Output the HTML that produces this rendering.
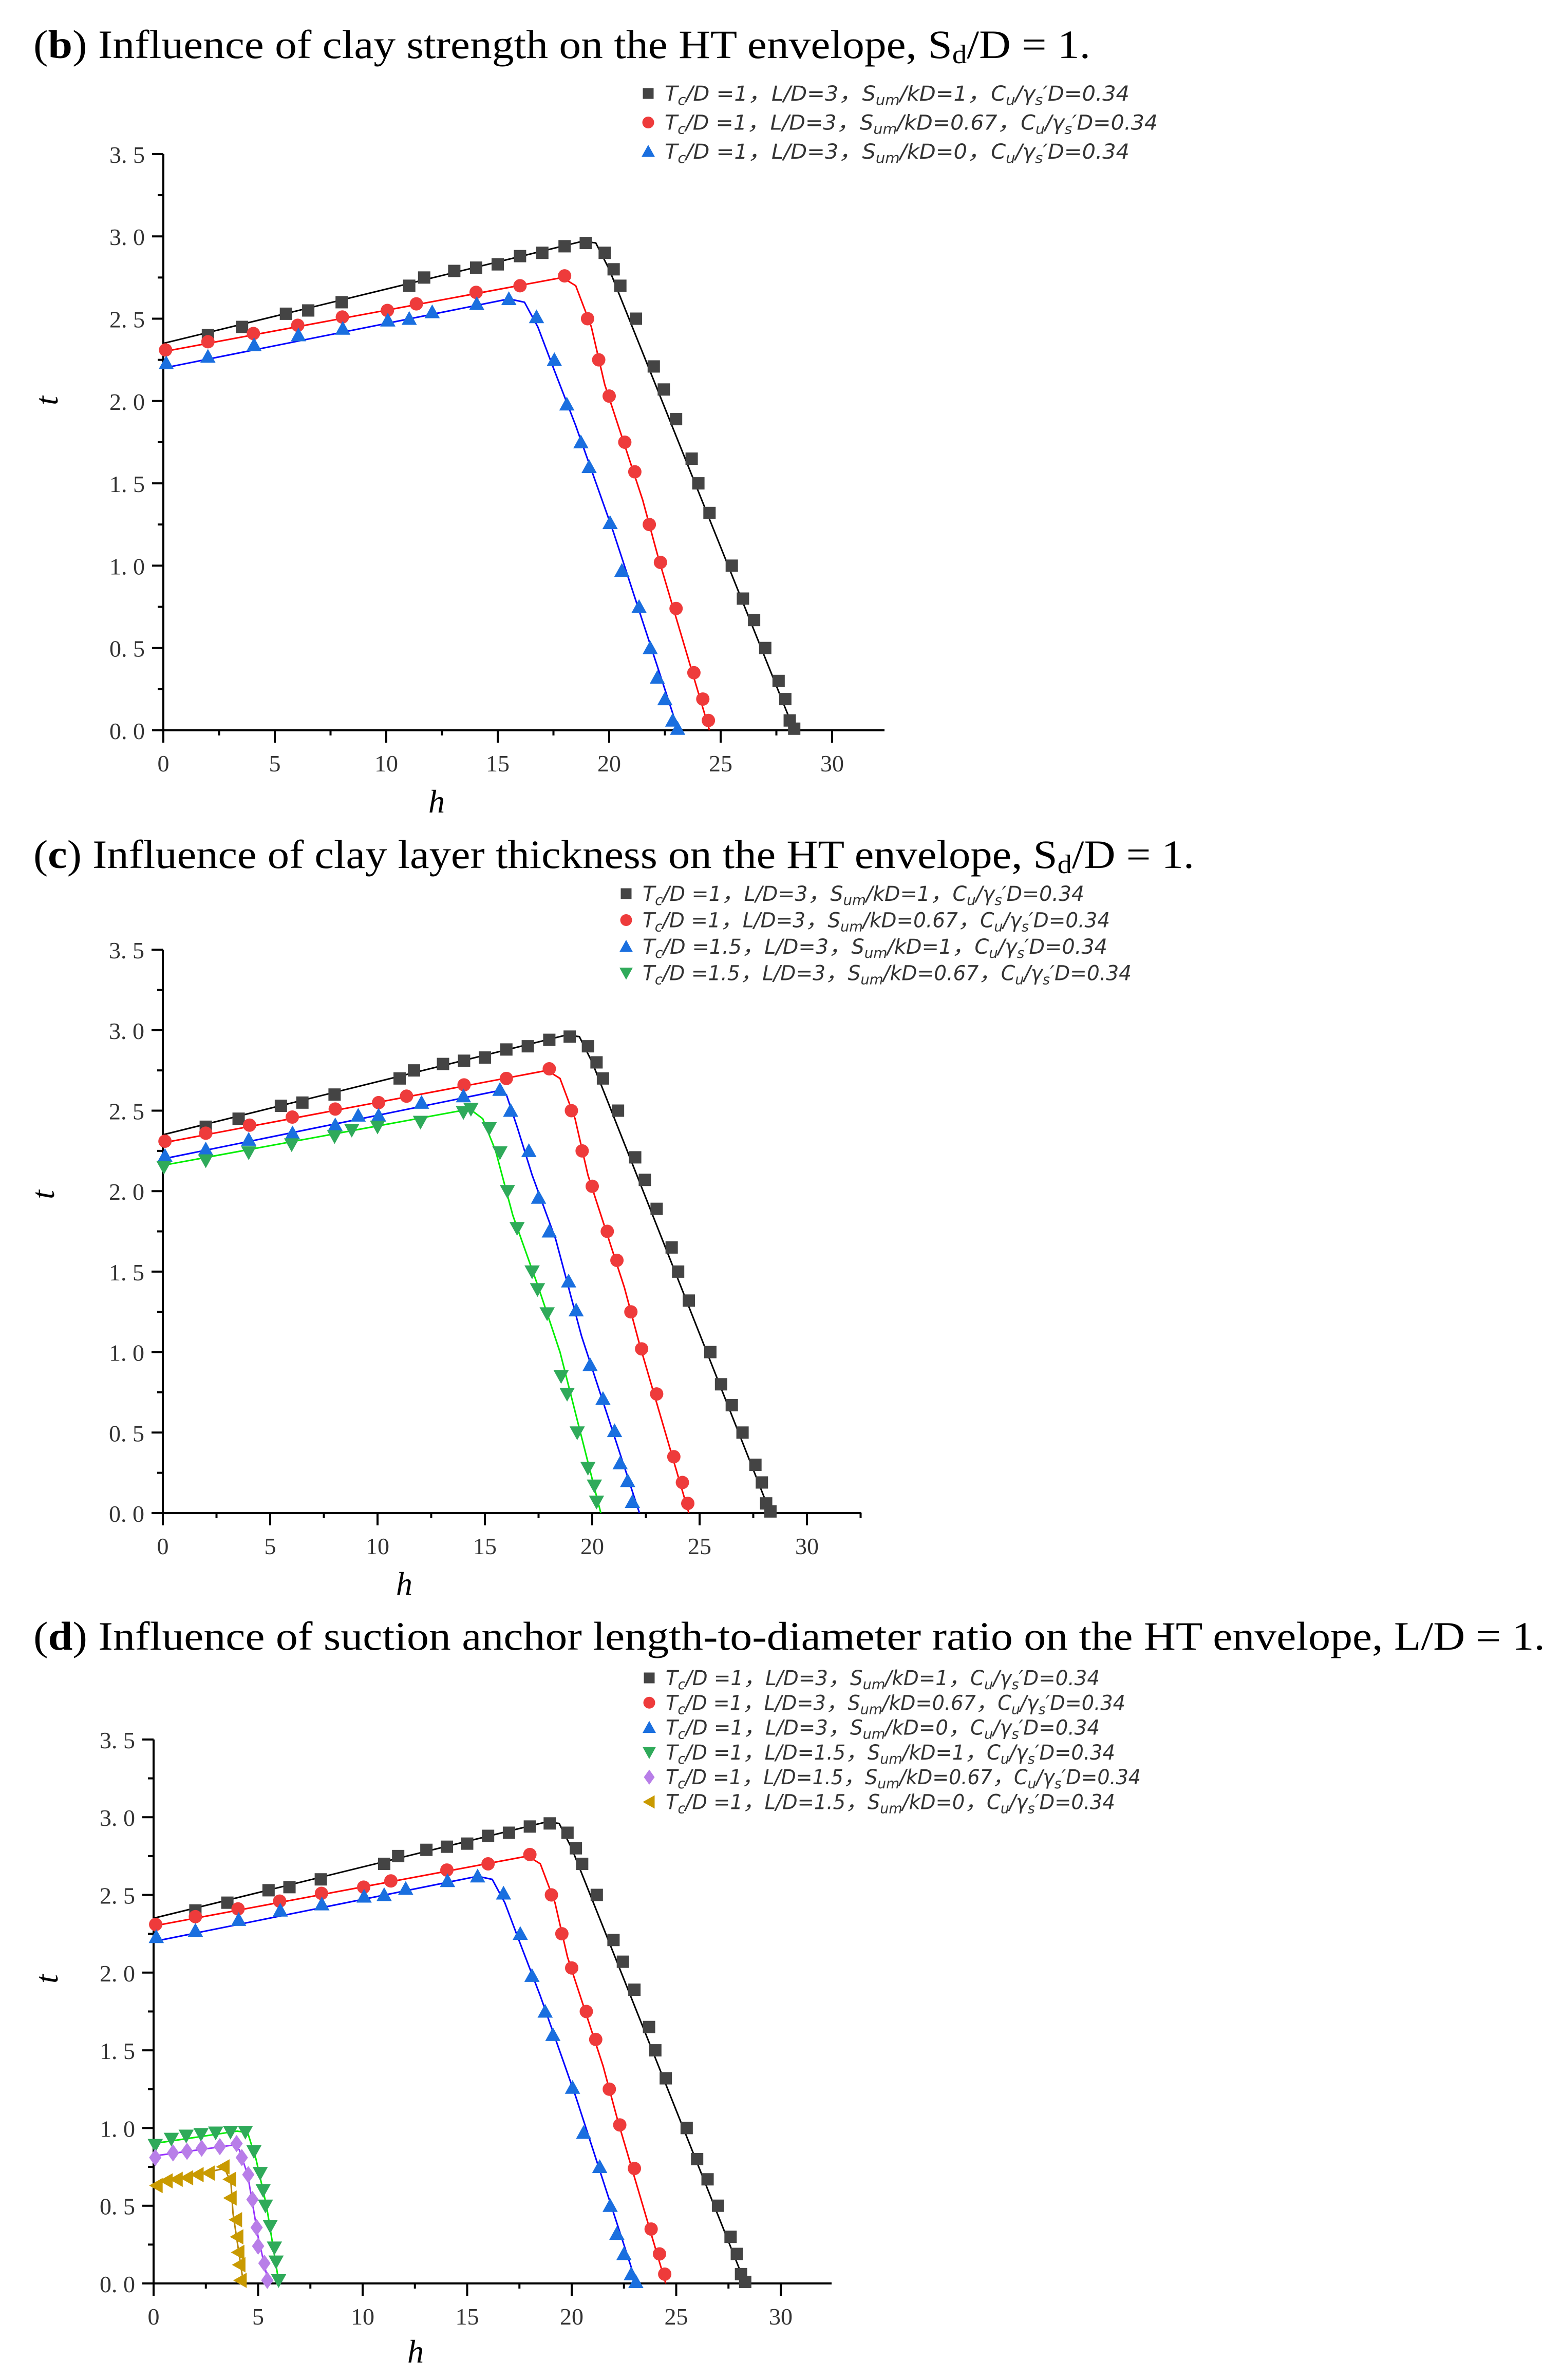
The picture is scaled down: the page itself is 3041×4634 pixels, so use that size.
<!DOCTYPE html>
<html><head><meta charset="utf-8"><style>
html,body{margin:0;padding:0;background:#fff;}
svg{display:block;}
</style></head><body>
<svg id="fig" width="3041" height="4634" viewBox="0 0 3041 4634" xmlns="http://www.w3.org/2000/svg">
<rect width="3041" height="4634" fill="#fff"/>
<text x="65" y="113" font-family="Liberation Serif, serif" font-size="78" fill="#000" textLength="2058" lengthAdjust="spacingAndGlyphs">(<tspan font-weight="bold">b</tspan>) Influence of clay strength on the HT envelope, S<tspan font-size="52" dy="10">d</tspan><tspan dy="-10">/D = 1.</tspan></text>
<text x="65" y="1690" font-family="Liberation Serif, serif" font-size="78" fill="#000" textLength="2260" lengthAdjust="spacingAndGlyphs">(<tspan font-weight="bold">c</tspan>) Influence of clay layer thickness on the HT envelope, S<tspan font-size="52" dy="10">d</tspan><tspan dy="-10">/D = 1.</tspan></text>
<text x="65" y="3212" font-family="Liberation Serif, serif" font-size="78" fill="#000" textLength="2943" lengthAdjust="spacingAndGlyphs">(<tspan font-weight="bold">d</tspan>) Influence of suction anchor length-to-diameter ratio on the HT envelope, L/D = 1.</text>
<g id="plots"></g>
</svg>
<script>
// ---- data: shared series (Tc/D=1, L/D=3) ----
const blackH = [2.0,3.53,5.5,6.5,8,11.03,11.7,13.05,14.03,15.0,16.0,17.0,18.0,18.95,19.8,20.2,20.5,21.2,22.0,22.45,23.0,23.7,24.0,24.5,25.5,26.0,26.5,27.0,27.6,27.9,28.1,28.3];
const blackT = [2.40,2.45,2.53,2.55,2.60,2.70,2.75,2.79,2.81,2.83,2.88,2.90,2.94,2.96,2.90,2.80,2.70,2.50,2.21,2.07,1.89,1.65,1.50,1.32,1.00,0.80,0.67,0.50,0.30,0.19,0.06,0.01];
const blackLineH = [0,18.8,19.4,20.0,28.3];
const blackLineT = [2.35,2.97,2.96,2.80,0];
const redH = [0.1,2,4.04,6.03,8.03,10.05,11.35,14.03,16.0,18.0,19.03,19.53,20.0,20.7,21.15,21.8,22.3,23.0,23.8,24.2,24.45];
const redT = [2.31,2.36,2.41,2.46,2.51,2.55,2.59,2.66,2.70,2.76,2.50,2.25,2.03,1.75,1.57,1.25,1.02,0.74,0.35,0.19,0.06];
const redLineH = [0,17.9,18.5,19.2,19.8,21.5,22.2,24.5];
const redLineT = [2.30,2.75,2.70,2.45,2.10,1.40,1.05,0];
const blueH = [0.13,2,4.07,6.06,8.05,10.07,11.03,12.06,14.06,15.5,16.74,17.54,18.1,18.73,19.1,20.04,20.57,21.34,21.84,22.16,22.5,22.85,23.07];
const blueT = [2.23,2.27,2.34,2.40,2.44,2.49,2.50,2.54,2.59,2.62,2.51,2.25,1.98,1.75,1.60,1.26,0.97,0.75,0.50,0.32,0.19,0.06,0.01];
const blueLineH = [0,15.5,16.2,16.8,17.5,18.5,20.2,23.1];
const blueLineT = [2.20,2.62,2.60,2.45,2.20,1.85,1.20,0];
// ---- panel c extra series (Tc/D=1.5) ----
const c15aH = [0.1,2,4.0,6.04,8.03,9.1,10.05,12.05,14.0,15.7,16.2,17.05,17.5,18.0,18.9,19.25,19.9,20.5,21.04,21.3,21.65,21.87];
const c15aT = [2.22,2.26,2.32,2.36,2.41,2.47,2.47,2.55,2.59,2.63,2.50,2.25,1.96,1.75,1.44,1.26,0.92,0.71,0.51,0.31,0.20,0.07];
const c15aLineH = [0,15.5,16.0,16.5,17.2,18.3,19.5,22.2];
const c15aLineT = [2.20,2.62,2.60,2.40,2.10,1.70,1.10,0];
const c15bH = [0.05,2,4,6,8,8.8,10.0,12.0,14.0,14.35,15.2,15.7,16.05,16.5,17.2,17.45,17.9,18.55,18.83,19.3,19.8,20.1,20.2];
const c15bT = [2.15,2.19,2.24,2.29,2.34,2.38,2.40,2.43,2.49,2.51,2.39,2.24,2.00,1.77,1.50,1.39,1.24,0.85,0.74,0.50,0.28,0.17,0.07];
const c15bLineH = [0,14.3,14.9,15.5,16.3,17.5,18.5,20.4];
const c15bLineT = [2.16,2.51,2.45,2.25,1.85,1.40,1.00,0];
// ---- panel d extra series (L/D=1.5) ----
const gH = [0.08,0.85,1.56,2.27,2.97,3.68,4.39,4.8,5.1,5.24,5.35,5.58,5.78,5.86,5.98];
const gT = [0.89,0.93,0.95,0.96,0.97,0.975,0.975,0.85,0.71,0.60,0.50,0.37,0.23,0.14,0.02];
const gLineH = [0,4.0,4.5,4.9,5.4,6.0];
const gLineT = [0.90,0.98,0.97,0.80,0.50,0];
const pH = [0.08,0.93,1.6,2.3,3.17,3.97,4.22,4.53,4.73,4.93,5.0,5.3,5.44];
const pT = [0.81,0.84,0.85,0.87,0.88,0.90,0.81,0.70,0.54,0.36,0.24,0.13,0.02];
const pLineH = [0,3.8,4.1,4.5,5.0,5.5];
const pLineT = [0.82,0.89,0.86,0.70,0.30,0];
const yH = [0.14,0.62,1.1,1.6,2.1,2.63,3.34,3.65,3.68,3.94,4.0,4.05,4.1,4.16];
const yT = [0.63,0.66,0.67,0.68,0.70,0.71,0.75,0.67,0.55,0.41,0.30,0.20,0.12,0.02];
const yLineH = [0,3.4,3.7,3.8,4.3];
const yLineT = [0.64,0.74,0.65,0.45,0];
// ---- ticks ----
const xTicks = [0,5,10,15,20,25,30];
const xTickLabels = ["0","5","10","15","20","25","30"];
const yTicks = [0,0.5,1,1.5,2,2.5,3,3.5];
const yTickLabels = ["0. 0","0. 5","1. 0","1. 5","2. 0","2. 5","3. 0","3. 5"];

const NS = "http://www.w3.org/2000/svg";
const root = document.getElementById('plots');
function mk(tag, attrs, parent){ const e=document.createElementNS(NS,tag); for(const k in attrs) e.setAttribute(k,attrs[k]); (parent||root).appendChild(e); return e; }

const STY = {
  black:{mc:"#444444", lc:"#000000", m:"square"},
  red:{mc:"#ee3b3b", lc:"#ff0000", m:"circle"},
  blue:{mc:"#1a6fdf", lc:"#0000ff", m:"tri"},
  green:{mc:"#2faa5a", lc:"#00ee00", m:"tridown"},
  purple:{mc:"#b87ee8", lc:"#9933ff", m:"diamond"},
  gold:{mc:"#c99a00", lc:"#b8860b", m:"trileft"}
};

function marker(g, type, cx, cy, s, col){
  let e;
  if(type==="square") e=mk('rect',{x:cx-s/2,y:cy-s/2,width:s,height:s,fill:col},g);
  else if(type==="circle") e=mk('circle',{cx:cx,cy:cy,r:s/2+1,fill:col},g);
  else if(type==="tri") e=mk('polygon',{points:`${cx},${cy-s*0.62} ${cx-s*0.62},${cy+s*0.5} ${cx+s*0.62},${cy+s*0.5}`,fill:col},g);
  else if(type==="tridown") e=mk('polygon',{points:`${cx},${cy+s*0.62} ${cx-s*0.62},${cy-s*0.5} ${cx+s*0.62},${cy-s*0.5}`,fill:col},g);
  else if(type==="diamond") e=mk('polygon',{points:`${cx},${cy-s*0.7} ${cx+s*0.5},${cy} ${cx},${cy+s*0.7} ${cx-s*0.5},${cy}`,fill:col},g);
  else e=mk('polygon',{points:`${cx-s*0.6},${cy} ${cx+s*0.5},${cy-s*0.62} ${cx+s*0.5},${cy+s*0.62}`,fill:col},g);
  return e;
}

function panel(P){
  const g = mk('g',{});
  
  
  const sx = h => P.x0 + h*P.kx;
  const sy = t => P.y0 - t*P.ky;
  const ax = mk('g',{stroke:"#000","stroke-width":4,fill:"none"},g);
  
  
  mk('line',{x1:P.x0,y1:P.y0,x2:P.xEnd,y2:P.y0},ax);
  mk('line',{x1:P.x0,y1:P.y0,x2:P.x0,y2:sy(3.5)},ax);
  for(let i=0;i<xTicks.length;i++){
    const x=sx(xTicks[i]);
    mk('line',{x1:x,y1:P.y0,x2:x,y2:P.y0+24},ax);
    const lb=mk('text',{x:x,y:P.y0+80,"text-anchor":"middle","font-family":"Liberation Serif, serif","font-size":46,fill:"#333",stroke:"none"},g);
    lb.textContent=xTickLabels[i];
    
    
  }
  for(let v=2.5; sx(v)<P.xEnd; v+=5){ const x=sx(v); mk('line',{x1:x,y1:P.y0,x2:x,y2:P.y0+10},ax); }
  for(let i=0;i<yTicks.length;i++){
    const y=sy(yTicks[i]);
    mk('line',{x1:P.x0-22,y1:y,x2:P.x0,y2:y},ax);
    const lb=mk('text',{x:P.x0-36,y:y+17,"text-anchor":"end","font-family":"Liberation Serif, serif","font-size":46,fill:"#333",stroke:"none"},g);
    lb.textContent=yTickLabels[i];
    
    
  }
  for(let v=0.25; v<3.5; v+=0.5){ const y=sy(v); mk('line',{x1:P.x0-11,y1:y,x2:P.x0,y2:y},ax); }
  const xt=mk('text',{x:P.hx,y:P.hy,"text-anchor":"middle","font-family":"Liberation Serif, serif","font-style":"italic","font-size":64,fill:"#000"},g);
  xt.textContent="h";
  
  
  const yt=mk('text',{x:0,y:0,"text-anchor":"middle","font-family":"Liberation Serif, serif","font-style":"italic","font-size":64,fill:"#000",transform:`translate(${P.tx},${P.ty}) rotate(-90)`},g);
  yt.textContent="t";
  
  
  P.series.forEach((s,si)=>{
    const st=STY[s.style];
    const sg=mk('g',{},g);
    
    
    const pts=s.lh.map((h,i)=>sx(h)+","+sy(s.lt[i])).join(" ");
    const pl=mk('polyline',{points:pts,fill:"none",stroke:st.lc,"stroke-width":3,"stroke-linejoin":"round"},sg);
    
    
    s.h.forEach((h,i)=>{
      const m=marker(sg,st.m,sx(h),sy(s.t[i]),24,st.mc);
      
      
    });
    const ly=P.ly0+si*P.ldy;
    const lm=marker(g,st.m,P.lx,ly,21,st.mc);
    
    
    const lt=mk('text',{x:P.lx+32,y:ly+14,"font-family":"DejaVu Sans Condensed, Liberation Sans Narrow, Liberation Sans, sans-serif","font-style":"italic","font-size":40,fill:"#333",textLength:s.lw,lengthAdjust:"spacingAndGlyphs"},g);
    
    
    lt.innerHTML=`T<tspan font-size="28" dy="8">c</tspan><tspan dy="-8">/D =${s.tc}，L/D=${s.ld}，S</tspan><tspan font-size="28" dy="8">um</tspan><tspan dy="-8">/kD=${s.sum}，C</tspan><tspan font-size="28" dy="8">u</tspan><tspan dy="-8">/γ</tspan><tspan font-size="28" dy="8">s</tspan><tspan dy="-8">′D=0.34</tspan>`;
  });
}

const S = {
  black:{style:"black",h:blackH,t:blackT,lh:blackLineH,lt:blackLineT},
  red:{style:"red",h:redH,t:redT,lh:redLineH,lt:redLineT},
  blue:{style:"blue",h:blueH,t:blueT,lh:blueLineH,lt:blueLineT}
};
function ser(base, extra){ return Object.assign({}, base, extra); }

panel({id:"b",x0:318,kx:43.4,xEnd:1722,y0:1422,ky:320.6,hx:850,hy:1582,tx:112,ty:780,
  lx:1262,ly0:182,ldy:56.5,
  series:[ser(S.black,{tc:"1",ld:"3",sum:"1",lw:905}),ser(S.red,{tc:"1",ld:"3",sum:"0.67",lw:960}),ser(S.blue,{tc:"1",ld:"3",sum:"0",lw:905})]});
panel({id:"c",x0:317,kx:41.8,xEnd:1677,y0:2946,ky:313.4,hx:787,hy:3105,tx:105,ty:2326,
  lx:1219,ly0:1740,ldy:51.5,
  series:[ser(S.black,{tc:"1",ld:"3",sum:"1",lw:860}),ser(S.red,{tc:"1",ld:"3",sum:"0.67",lw:910}),
    {style:"blue",h:c15aH,t:c15aT,lh:c15aLineH,lt:c15aLineT,tc:"1.5",ld:"3",sum:"1",lw:905},
    {style:"green",h:c15bH,t:c15bT,lh:c15bLineH,lt:c15bLineT,tc:"1.5",ld:"3",sum:"0.67",lw:952}]});
panel({id:"d",x0:299,kx:40.7,xEnd:1619,y0:4446,ky:302.6,hx:809,hy:4600,tx:112,ty:3853,
  lx:1264,ly0:3267,ldy:48.3,
  series:[ser(S.black,{tc:"1",ld:"3",sum:"1",lw:845}),ser(S.red,{tc:"1",ld:"3",sum:"0.67",lw:895}),ser(S.blue,{tc:"1",ld:"3",sum:"0",lw:845}),
    {style:"green",h:gH,t:gT,lh:gLineH,lt:gLineT,tc:"1",ld:"1.5",sum:"1",lw:875},
    {style:"purple",h:pH,t:pT,lh:pLineH,lt:pLineT,tc:"1",ld:"1.5",sum:"0.67",lw:925},
    {style:"gold",h:yH,t:yT,lh:yLineH,lt:yLineT,tc:"1",ld:"1.5",sum:"0",lw:875}]});
</script>
</body></html>
